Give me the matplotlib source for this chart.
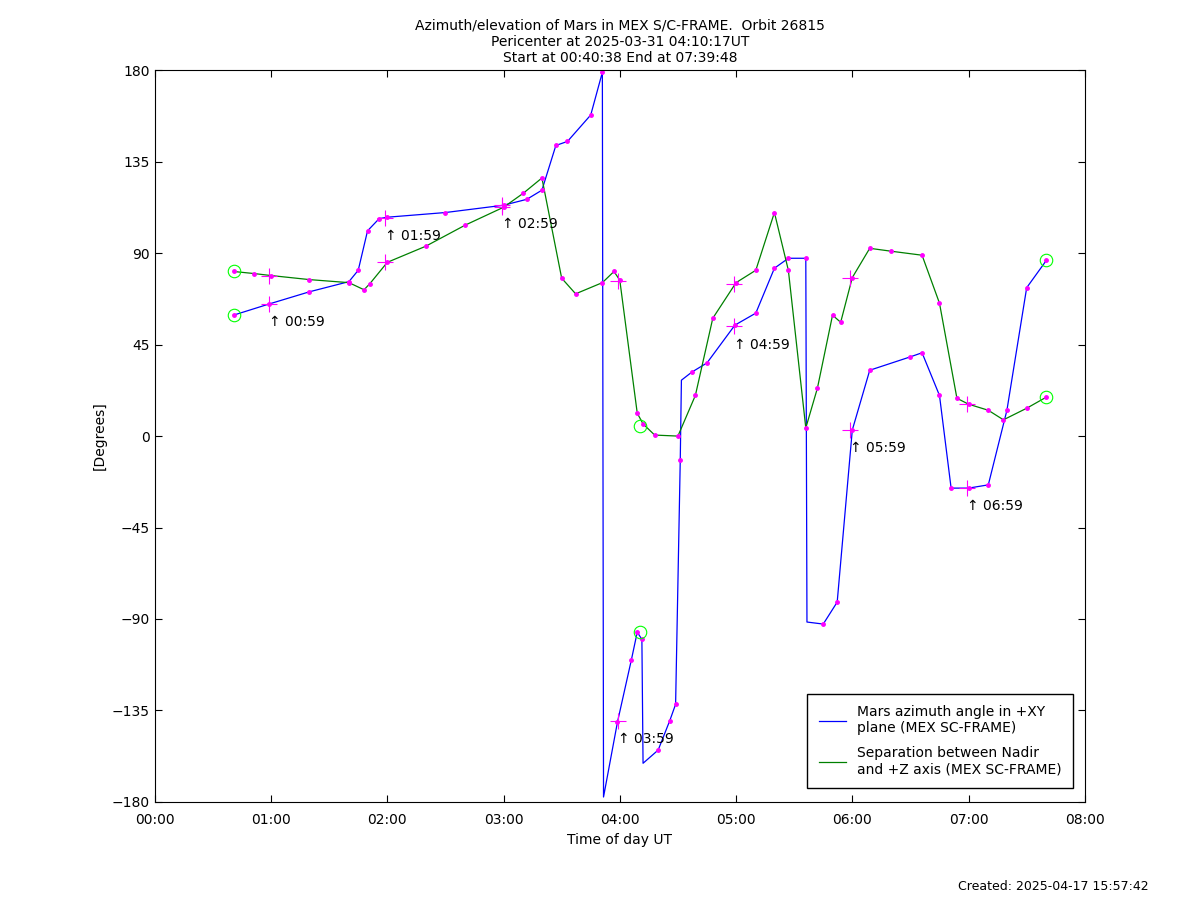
import matplotlib
matplotlib.use("Agg")
import matplotlib.pyplot as plt

az_t = [0.677,0.983,1.33,1.67,1.75,1.83,1.93,2.0,2.5,3.0,3.2,3.33,3.45,3.55,3.75,3.85,3.86,3.98,4.1,4.15,4.19,4.2,4.33,4.43,4.48,4.52,4.53,4.62,4.75,4.99,5.17,5.33,5.45,5.6,5.61,5.75,5.87,6.0,6.15,6.5,6.6,6.75,6.85,7.0,7.17,7.33,7.5,7.67]
az_v = [59.5,65,71,76,81.6,101,107,107.7,110,113.6,116.5,121,143,145,158,179,-177.6,-140.7,-110,-96.5,-100,-161,-154.5,-140,-132,-12,27.5,31.5,36,54.6,60.5,82.6,87.5,87.5,-91.5,-92.5,-81.7,3,32.4,39,41,20,-25.6,-25.6,-24,12.7,73,86.5]
sep_t = [0.677,0.85,1.0,1.33,1.67,1.8,1.85,2.0,2.33,2.67,3.0,3.17,3.33,3.5,3.62,3.85,3.95,4.0,4.15,4.2,4.3,4.5,4.65,4.8,5.0,5.17,5.33,5.45,5.6,5.7,5.83,5.9,6.0,6.15,6.33,6.6,6.75,6.9,7.0,7.17,7.3,7.5,7.67]
sep_v = [81,80,79,77,75.5,72,75,85.5,93.4,103.8,112.6,119.5,127,77.7,70,75.5,81,76.7,11.3,6,0.5,0,20,58,75.5,81.6,110,81.6,4,23.6,59.5,56,78,92.4,91,89,65.4,18.6,15.7,12.7,8,13.7,19.2]
hour_t = [0.983,1.983,2.983,3.983,4.983,5.983,6.983]
hour_az = [65,107.5,113.5,-140,54,3,-25.6]
hour_sep = [79,85.5,112.5,76.5,75,78,15.7]
hour_lbl = ["00:59","01:59","02:59","03:59","04:59","05:59","06:59"]
circ_t = [0.677,7.67,0.677,7.67,4.17,4.17]
circ_v = [59.5,86.5,81,19.2,5,-96.5]

fig = plt.figure(figsize=(12,9.01), dpi=100)
ax = fig.add_axes([0.129,0.11,0.775,0.812])
l1, = ax.plot(az_t, az_v, color='blue', lw=0.9, label='Mars azimuth angle in +XY\nplane (MEX SC-FRAME)')
l2, = ax.plot(sep_t, sep_v, color='green', lw=0.9, label='Separation between Nadir\nand +Z axis (MEX SC-FRAME)')
skip = {3.86,4.2,4.53,5.61}
ax.plot([t for t in az_t if t not in skip],[v for t,v in zip(az_t,az_v) if t not in skip],'o',color='magenta',ms=2.5,ls='none')
ax.plot(sep_t, sep_v,'o',color='magenta',ms=2.5,ls='none')
ax.plot(hour_t, hour_az,'+',color='magenta',ms=12,mew=0.8)
ax.plot(hour_t, hour_sep,'+',color='magenta',ms=12,mew=0.8)
ax.plot(circ_t, circ_v,'o',mfc='none',mec='#00ff00',ms=9,mew=0.8)
for t,v,s in zip(hour_t,hour_az,hour_lbl):
    ax.annotate("↑ "+s,(t,v),xytext=(0,-16),textcoords='offset points',fontsize=10)
ax.set_xlim(0,8); ax.set_ylim(-180,180)
ax.set_xticks(range(9)); ax.set_xticklabels([f"{h:02d}:00" for h in range(9)])
ax.set_yticks(range(-180,181,45))
ax.tick_params(direction='in', top=True, right=True, labelsize=10, length=5)
ax.tick_params(axis='x', pad=8)
ax.set_xlabel("Time of day UT", fontsize=10)
ax.set_ylabel("[Degrees]", fontsize=10)
ax.set_title("Azimuth/elevation of Mars in MEX S/C-FRAME.  Orbit 26815\nPericenter at 2025-03-31 04:10:17UT\nStart at 00:40:38 End at 07:39:48", fontsize=10)
ax.legend(handles=[l1,l2], loc='lower right', fontsize=10, fancybox=False, edgecolor='black', framealpha=1, borderpad=0.8, labelspacing=0.8, bbox_to_anchor=(0.995,0.01))
fig.text(0.957,0.012,"Created: 2025-04-17 15:57:42", ha='right', fontsize=9)
fig.savefig("out.png")
